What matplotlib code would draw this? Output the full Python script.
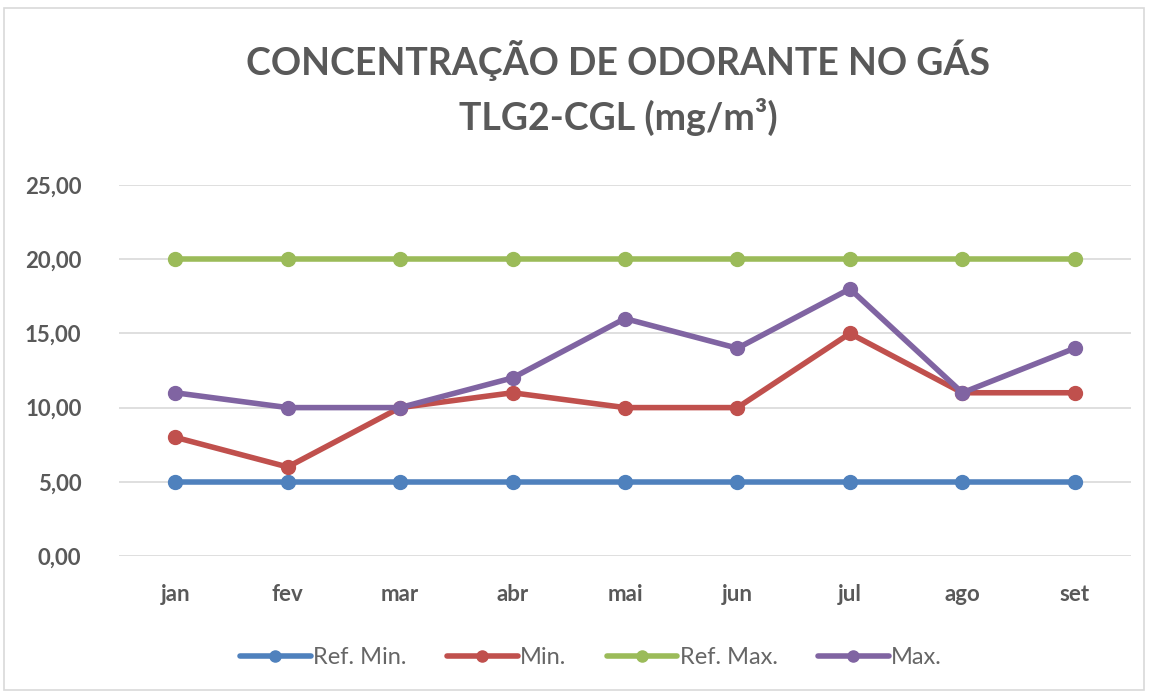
import matplotlib
matplotlib.use("Agg")
import matplotlib.pyplot as plt
from matplotlib.ticker import FuncFormatter, MultipleLocator
from matplotlib.patches import Rectangle

months = ["jan", "fev", "mar", "abr", "mai", "jun", "jul", "ago", "set"]
ref_min = [5, 5, 5, 5, 5, 5, 5, 5, 5]
minimo = [8, 6, 10, 11, 10, 10, 15, 11, 11]
ref_max = [20, 20, 20, 20, 20, 20, 20, 20, 20]
maximo = [11, 10, 10, 12, 16, 14, 18, 11, 14]

series = [
    ("Ref. Min.", ref_min, "#4F81BD"),
    ("Min.", minimo, "#C0504D"),
    ("Ref. Max.", ref_max, "#9BBB59"),
    ("Max.", maximo, "#8064A2"),
]

plt.rcParams["font.family"] = ["Lato", "DejaVu Sans"]
text_color = "#595959"

fig = plt.figure(figsize=(11.52, 6.98), dpi=100)
fig.patches.append(Rectangle((4 / 1152, 8 / 698), 1140 / 1152, 682 / 698,
                             transform=fig.transFigure, fill=False,
                             edgecolor="#D9D9D9", linewidth=1.2))

ax = fig.add_axes([119 / 1152, 1 - 556 / 698, 1012 / 1152, 371 / 698])
x = list(range(len(months)))
for label, vals, color in series:
    ax.plot(x, vals, color=color, linewidth=4, marker="o", markersize=10,
            label=label, solid_capstyle="round", zorder=3)

ax.set_xlim(-0.5, len(months) - 0.5)
ax.set_ylim(0, 25)
ax.yaxis.set_major_locator(MultipleLocator(5))
ax.yaxis.set_major_formatter(FuncFormatter(lambda v, p: f"{v:.2f}".replace(".", ",")))
ax.set_xticks(x)
ax.set_xticklabels(months)
ax.grid(axis="y", color="#D9D9D9", linewidth=1.2, zorder=0)
for s in ax.spines.values():
    s.set_visible(False)
ax.tick_params(axis="both", length=0, colors=text_color, labelsize=16)
ax.tick_params(axis="y", pad=27)
ax.tick_params(axis="x", pad=20)
for lbl in ax.get_xticklabels() + ax.get_yticklabels():
    lbl.set_fontweight("bold")

fig.text(618 / 1152, 1 - 60 / 698, "CONCENTRAÇÃO DE ODORANTE NO GÁS", ha="center",
         va="center", fontsize=27, color=text_color, fontweight="bold")
fig.text(618 / 1152, 1 - 117 / 698, "TLG2-CGL (mg/m³)", ha="center",
         va="center", fontsize=27, color=text_color, fontweight="bold")

leg = fig.legend(loc="center", bbox_to_anchor=(591 / 1152, 1 - 658 / 698), ncol=4,
                 frameon=False, fontsize=17, handlelength=3.0, handletextpad=0.1,
                 columnspacing=1.7, markerscale=0.8)
for t in leg.get_texts():
    t.set_color("#666666")

fig.savefig("out.png", dpi=100, facecolor="white")
